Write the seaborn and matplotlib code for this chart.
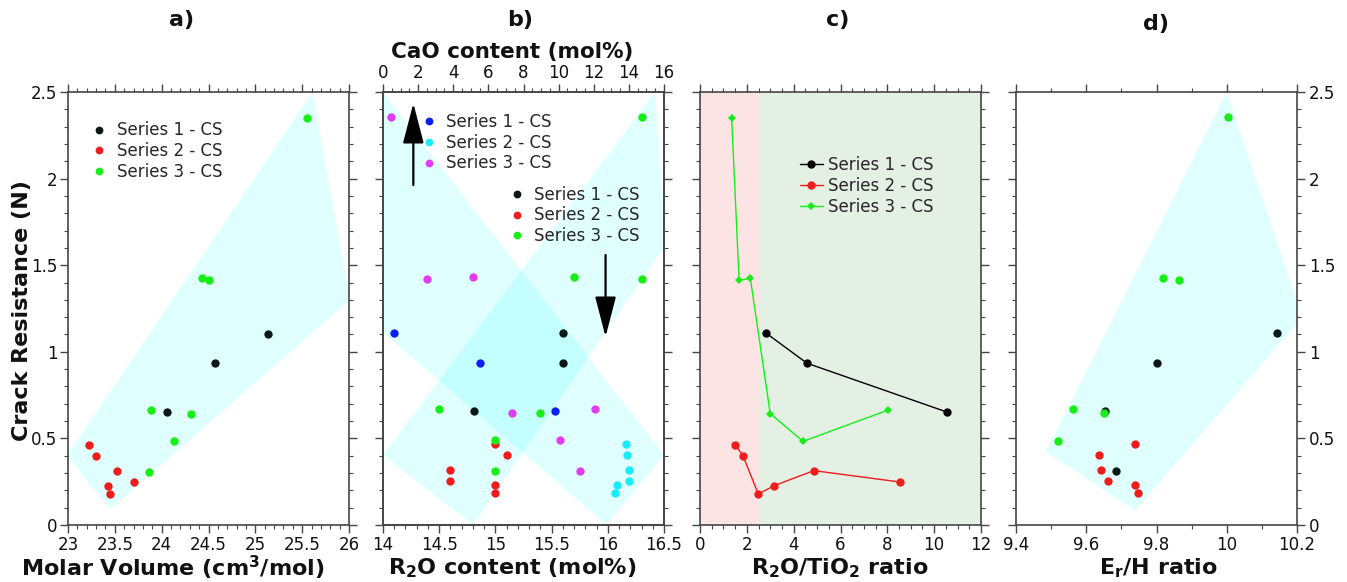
import numpy as np
import pandas as pd
import seaborn as sns
import matplotlib
matplotlib.use("Agg")
import matplotlib.pyplot as plt
from matplotlib.lines import Line2D
from matplotlib.ticker import MultipleLocator, FuncFormatter

# ---------------- data ----------------
series_labels = ["Series 1 - CS", "Series 2 - CS", "Series 3 - CS"]

# a) Molar volume
mv_s1 = [24.06, 24.57, 25.13]
cr_a_s1 = [0.652, 0.934, 1.105]
mv_s2 = [23.22, 23.30, 23.52, 23.70, 23.43, 23.445]
cr_a_s2 = [0.464, 0.398, 0.314, 0.248, 0.227, 0.179]
mv_s3 = [23.86, 23.89, 24.13, 24.31, 24.43, 24.51, 25.55]
cr_a_s3 = [0.306, 0.664, 0.483, 0.643, 1.424, 1.413, 2.352]
hull_a_x = [25.61, 26.01, 23.45, 22.99]
hull_a_y = [2.50, 1.30, 0.09, 0.40]

# b) R2O content (bottom axis)
r2o_s1 = [15.60, 15.60, 14.81]
cr_b_s1 = [1.110, 0.935, 0.656]
r2o_s2 = [15.00, 15.10, 14.60, 14.60, 15.00, 15.00]
cr_b_s2 = [0.468, 0.402, 0.318, 0.252, 0.231, 0.183]
r2o_s3 = [14.50, 15.40, 15.00, 15.00, 15.70, 16.30, 16.30]
cr_b_s3 = [0.668, 0.647, 0.489, 0.310, 1.430, 1.419, 2.354]
# b) CaO content (top axis)
cao_s1 = [0.63, 5.52, 9.80]
cr_bt_s1 = [1.110, 0.935, 0.656]
cao_s2 = [13.82, 13.91, 14.01, 14.01, 13.33, 13.21]
cr_bt_s2 = [0.468, 0.402, 0.318, 0.252, 0.231, 0.183]
cao_s3 = [0.46, 2.53, 5.15, 7.33, 12.09, 10.10, 11.20]
cr_bt_s3 = [2.354, 1.419, 1.430, 0.649, 0.668, 0.489, 0.310]
hull_b1_x = [14.00, 16.50, 15.99, 14.00]
hull_b1_y = [2.50, 0.404, 0.00, 1.110]
hull_b2_x = [14.00, 14.80, 16.52, 16.42]
hull_b2_y = [0.404, 0.00, 1.62, 2.50]
arrow_up_x = 14.27
arrow_up_y = [1.963, 2.435]
arrow_dn_x = 15.98
arrow_dn_y = [1.559, 1.087]

# c) R2O/TiO2 ratio
rt_s1 = [2.83, 4.57, 10.55]
cr_c_s1 = [1.107, 0.934, 0.652]
rt_s2 = [1.51, 1.84, 2.49, 3.17, 4.86, 8.55]
cr_c_s2 = [0.464, 0.398, 0.179, 0.227, 0.314, 0.248]
rt_s3 = [1.35, 1.67, 2.15, 3.00, 4.40, 8.04]
cr_c_s3 = [2.352, 1.413, 1.424, 0.643, 0.483, 0.664]
c_split = 2.5

# d) Er/H ratio
eh_s1 = [10.144, 9.802, 9.654, 9.685]
cr_d_s1 = [1.110, 0.935, 0.658, 0.310]
eh_s2 = [9.738, 9.635, 9.641, 9.662, 9.740, 9.746]
cr_d_s2 = [0.468, 0.402, 0.318, 0.252, 0.229, 0.183]
eh_s3 = [10.003, 9.818, 9.865, 9.562, 9.651, 9.519]
cr_d_s3 = [2.354, 1.428, 1.416, 0.668, 0.649, 0.487]
hull_d_x = [10.00, 10.216, 9.739, 9.485]
hull_d_y = [2.50, 1.20, 0.083, 0.423]

# ---------------- style ----------------
sns.set_theme(style="ticks")
plt.rcParams["font.family"] = ["DejaVu Sans"]
plt.rcParams["mathtext.fontset"] = "dejavusans"

C_BLACK = "#0b1818"
C_RED = "#ee1c1c"
C_GREEN = "#16ee16"
C_BLUE = "#0a1efa"
C_CYAN = "#18ecf8"
C_MAG = "#e23cf2"
HULL = dict(color="cyan", alpha=0.12, lw=0, zorder=1)
SPINE = "#454545"

W, H = 1347, 582
fig = plt.figure(figsize=(W / 100, H / 100), dpi=100)


def box(l, r, t, b):
    return [l / W, 1 - b / H, (r - l) / W, (b - t) / H]


fmt = FuncFormatter(lambda v, p: f"{v:g}")


def style_axis(ax, xmaj, xmin, xlim):
    ax.set_xlim(*xlim)
    ax.set_ylim(0, 2.5)
    ax.xaxis.set_major_locator(MultipleLocator(xmaj))
    ax.xaxis.set_minor_locator(MultipleLocator(xmin))
    ax.yaxis.set_major_locator(MultipleLocator(0.5))
    ax.yaxis.set_minor_locator(MultipleLocator(0.1))
    ax.xaxis.set_major_formatter(fmt)
    ax.yaxis.set_major_formatter(fmt)
    for s in ax.spines.values():
        s.set_color(SPINE)
        s.set_linewidth(1.2)
        s.set_visible(True)
    ax.tick_params(which="both", direction="out", colors=SPINE, labelcolor="#111111",
                   labelsize=12, top=True, right=True, bottom=True, left=True,
                   labelleft=False, labelbottom=True, pad=2.5)
    ax.tick_params(which="major", length=5.5, width=1.0)
    ax.tick_params(which="minor", length=3, width=0.8)
    ax.set_xlabel("")
    ax.set_ylabel("")


def scatter(ax, x, y, c):
    sns.scatterplot(x=x, y=y, color=c, s=36, linewidth=0, ax=ax, zorder=3)


def dot_legend(ax, colors, fx, fy, pad):
    handles = [Line2D([], [], ls="none", marker="o", ms=5.6, mec="none", mfc=c) for c in colors]
    ax.legend(handles, series_labels, loc="upper left", bbox_to_anchor=(fx, fy),
              frameon=False, borderpad=0, borderaxespad=0, handlelength=1.0,
              handletextpad=pad, labelspacing=0.17, fontsize=12)


# ---- a) ----
axA = fig.add_axes(box(68, 349, 92, 525))
axA.fill(hull_a_x, hull_a_y, **HULL)
scatter(axA, mv_s1, cr_a_s1, C_BLACK)
scatter(axA, mv_s2, cr_a_s2, C_RED)
scatter(axA, mv_s3, cr_a_s3, C_GREEN)
style_axis(axA, 0.5, 0.1, (23, 26))
axA.tick_params(labelleft=True, pad=2, axis="y")
dot_legend(axA, [C_BLACK, C_RED, C_GREEN], 0.081, 0.932, 0.58)

# ---- b) ----
axB = fig.add_axes(box(383, 664, 92, 525))
axB.fill(hull_b1_x, hull_b1_y, **HULL)
axB.fill(hull_b2_x, hull_b2_y, **HULL)
scatter(axB, r2o_s1, cr_b_s1, C_BLACK)
scatter(axB, r2o_s2, cr_b_s2, C_RED)
scatter(axB, r2o_s3, cr_b_s3, C_GREEN)
style_axis(axB, 0.5, 0.1, (14, 16.5))
axB.tick_params(axis="x", which="both", top=False)
axB.spines["top"].set_visible(True)
arrow_kw = dict(arrowstyle="-|>,head_length=2.5,head_width=0.65", color="black",
                lw=1.6, mutation_scale=10, shrinkA=0, shrinkB=0)
axB.annotate("", xy=(arrow_up_x, arrow_up_y[1]), xytext=(arrow_up_x, arrow_up_y[0]),
             arrowprops=arrow_kw, zorder=5)
axB.annotate("", xy=(arrow_dn_x, arrow_dn_y[1]), xytext=(arrow_dn_x, arrow_dn_y[0]),
             arrowprops=arrow_kw, zorder=5)
dot_legend(axB, [C_BLACK, C_RED, C_GREEN], 0.446, 0.784, 0.54)

axBt = axB.twiny()
scatter(axBt, cao_s1, cr_bt_s1, C_BLUE)
scatter(axBt, cao_s2, cr_bt_s2, C_CYAN)
scatter(axBt, cao_s3, cr_bt_s3, C_MAG)
axBt.set_xlim(0, 16)
axBt.set_ylim(0, 2.5)
axBt.xaxis.set_major_locator(MultipleLocator(2))
axBt.xaxis.set_minor_locator(MultipleLocator(0.5))
axBt.xaxis.set_major_formatter(fmt)
axBt.set_xlabel("")
axBt.set_ylabel("")
axBt.tick_params(axis="x", which="both", direction="out", colors=SPINE, labelcolor="#111111",
                 labelsize=12, top=True, bottom=False, labeltop=True, labelbottom=False, pad=2)
axBt.tick_params(axis="x", which="major", length=5.5, width=1.0)
axBt.tick_params(axis="x", which="minor", length=3, width=0.8)
for s in axBt.spines.values():
    s.set_color(SPINE)
    s.set_linewidth(1.2)
dot_legend(axBt, [C_BLUE, C_CYAN, C_MAG], 0.133, 0.952, 0.556)

# ---- c) ----
axC = fig.add_axes(box(700, 981, 92, 525))
axC.axvspan(0, c_split, color="#fde4e4", lw=0, zorder=0)
axC.axvspan(c_split, 12, color="#e5f0e5", lw=0, zorder=0)
sns.lineplot(x=rt_s1, y=cr_c_s1, ax=axC, color="black", marker="o", markersize=6,
             markeredgewidth=0, linewidth=1.0, sort=False, estimator=None, label=series_labels[0])
sns.lineplot(x=rt_s2, y=cr_c_s2, ax=axC, color=C_RED, marker="o", markersize=6,
             markeredgewidth=0, linewidth=1.0, sort=False, estimator=None, label=series_labels[1])
sns.lineplot(x=rt_s3, y=cr_c_s3, ax=axC, color=C_GREEN, marker="D", markersize=4,
             markeredgewidth=0, linewidth=1.0, sort=False, estimator=None, label=series_labels[2])
style_axis(axC, 2, 0.5, (0, 12))
h, l = axC.get_legend_handles_labels()
axC.legend(h, l, loc="upper left", bbox_to_anchor=(0.356, 0.852), frameon=False,
           borderpad=0, borderaxespad=0, handlelength=1.36, handletextpad=0.34,
           labelspacing=0.17, fontsize=12)

# ---- d) ----
axD = fig.add_axes(box(1016, 1297, 92, 525))
axD.fill(hull_d_x, hull_d_y, **HULL)
scatter(axD, eh_s1, cr_d_s1, C_BLACK)
scatter(axD, eh_s2, cr_d_s2, C_RED)
scatter(axD, eh_s3, cr_d_s3, C_GREEN)
style_axis(axD, 0.2, 0.1, (9.4, 10.2))
axD.tick_params(axis="y", labelleft=False, labelright=True, pad=3)

# ---- texts ----
TB = dict(fontweight="bold", color="#111111", ha="center", va="center")
for txt, x, y in [("a)", 182, 20), ("b)", 520, 20), ("c)", 838, 20), ("d)", 1156, 24)]:
    fig.text(x / W, 1 - y / H, txt, fontsize=16, **TB)
fig.text(512 / W, 1 - 52 / H, "CaO content (mol%)", fontsize=15.5, **TB)
fig.text(22 / W, 1 - 311 / H, "Crack Resistance (N)", fontsize=16, rotation=90, **TB)
fig.text(173 / W, 1 - 568 / H, r"Molar Volume (cm$^\mathbf{3}$/mol)", fontsize=16, **TB)
fig.text(512 / W, 1 - 568 / H, r"R$_\mathbf{2}$O content (mol%)", fontsize=16, **TB)
fig.text(840 / W, 1 - 568 / H, r"R$_\mathbf{2}$O/TiO$_\mathbf{2}$ ratio", fontsize=16, **TB)
fig.text(1158 / W, 1 - 568 / H, r"E$_\mathbf{r}$/H ratio", fontsize=16, **TB)

fig.savefig("out.png", dpi=100)
